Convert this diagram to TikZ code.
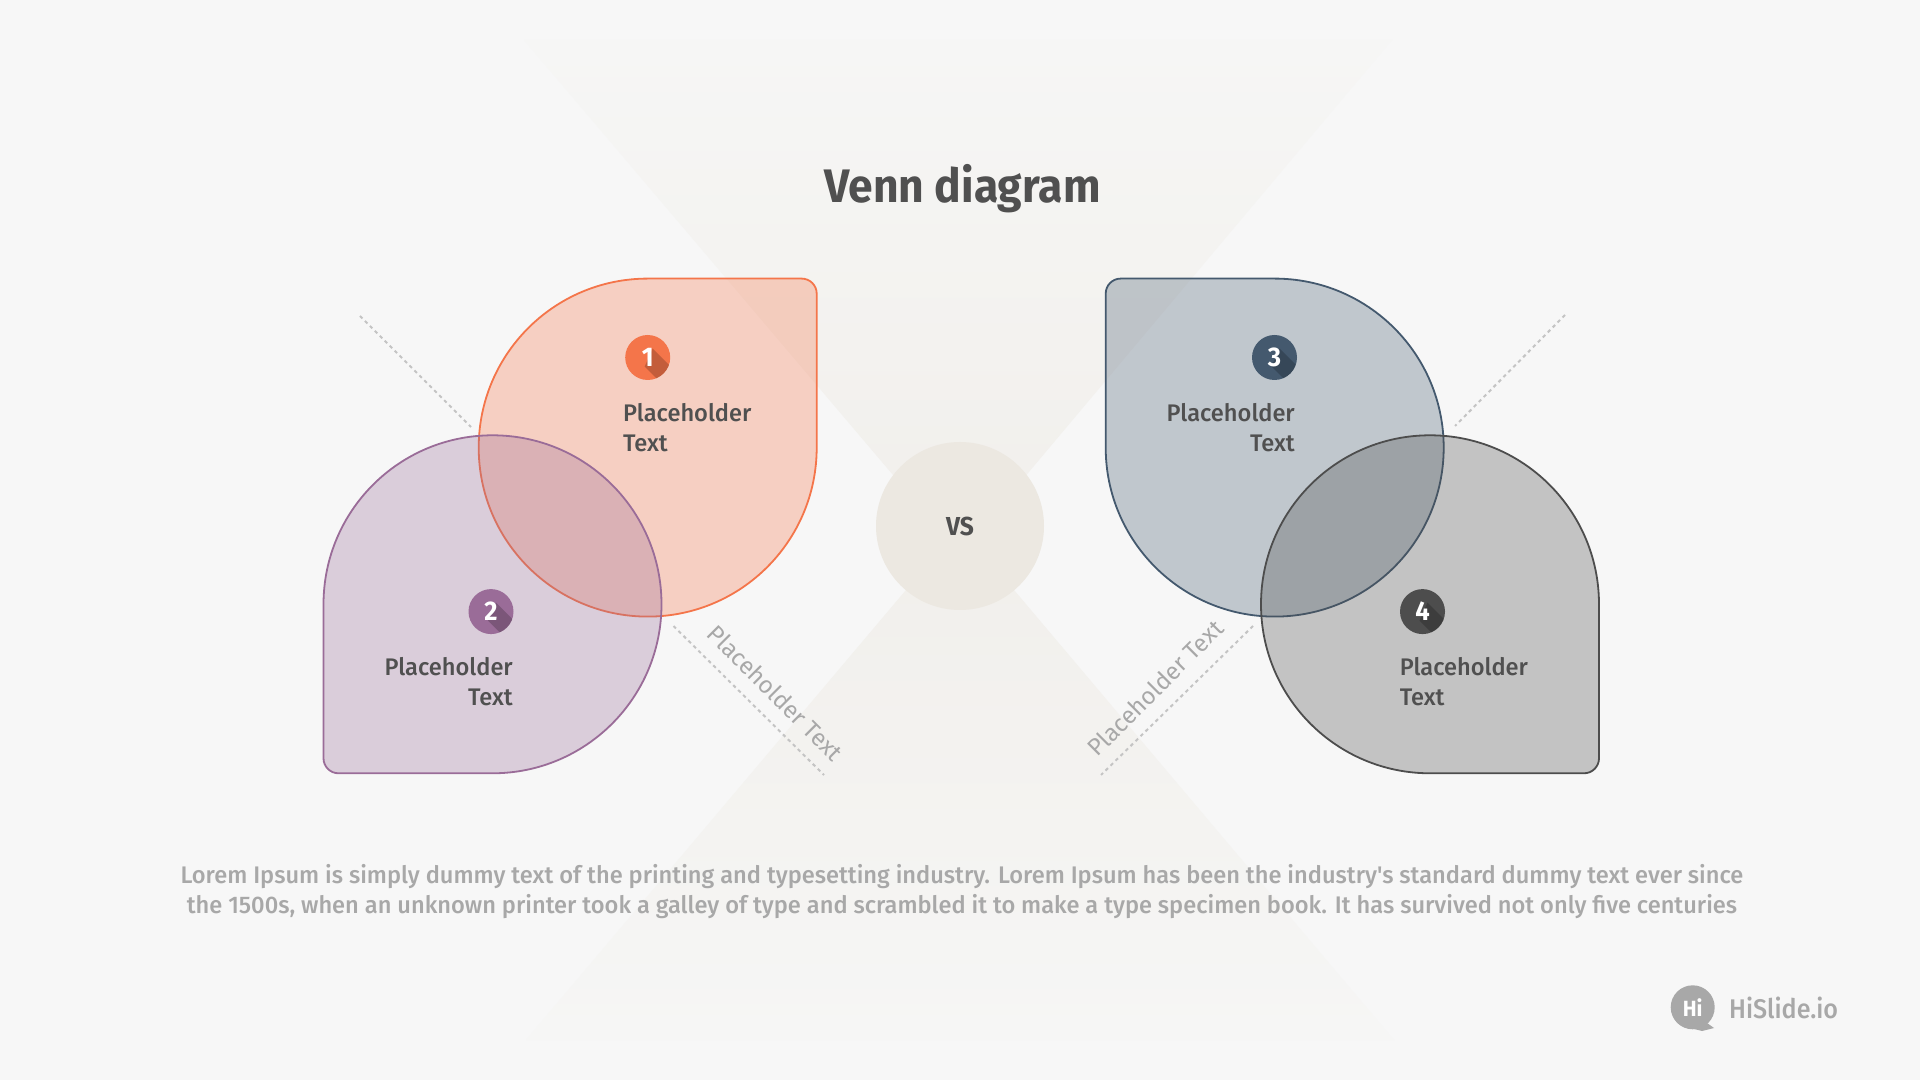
\documentclass[tikz,border=0pt]{standalone}
\usepackage{fontspec}
\setmainfont{Fira Sans}[FakeStretch=0.945]
\newfontfamily\medf{Fira Sans Medium}[FakeStretch=0.985]
\newfontfamily\regf{Fira Sans}[FakeStretch=1.0]
\newfontfamily\logof{Fira Sans Medium}[FakeStretch=0.93]
\definecolor{bgc}{HTML}{F7F7F7}
\definecolor{fanc}{HTML}{F1EFEB}
\definecolor{fand}{HTML}{F6F6F5}
\definecolor{vsc}{HTML}{ECE8E1}
\definecolor{orc}{HTML}{F4754A}
\definecolor{puc}{HTML}{9A6C98}
\definecolor{nac}{HTML}{44596E}
\definecolor{dkc}{HTML}{4D4D4D}
\definecolor{txc}{HTML}{505050}
\definecolor{grc}{HTML}{A8A8A8}
\definecolor{dotc}{HTML}{C4C4C4}
\tikzset{
  petalshape/.style={draw=#1,fill=#1,fill opacity=.30,draw opacity=1,line width=1.8pt},
  badgeshape/.style={circle,fill=#1,minimum size=45pt,inner sep=0pt},
  badgenum/.style={text=white,font=\bfseries\fontsize{27}{27}\selectfont,inner sep=0pt},
  lbl/.style={text=txc,font=\medf\fontsize{24}{30}\selectfont,inner sep=0pt},
  dotline/.style={draw=dotc,line width=2pt,dash pattern=on 3.5pt off 3.5pt},
  rotlbl/.style={text=grc,font=\regf\fontsize{24}{24}\selectfont,inner sep=0pt},
  bodytxt/.style={text=grc,font=\medf\fontsize{24}{30}\selectfont,inner sep=0pt,align=center},
}
% cx, cy, rotation, colour
\newcommand{\petal}[4]{\path[petalshape=#4,shift={(#1,#2)},rotate=#3]
  (0,169) -- (154,169) arc[start angle=90,end angle=0,radius=15] -- (169,0)
  arc[start angle=0,end angle=-270,radius=169] -- cycle;}
% name, x, y, colour, digit
\newcommand{\badge}[5]{
  \node[badgeshape=#4] (#1) at (#2,#3) {};
  \begin{scope}
    \clip (#2,#3) circle[radius=22.5];
    \fill[black,opacity=.2,shift={(#2,#3)}] (5,9) -- (35,-21) -- (27,-39) -- (-3,-9) -- cycle;
  \end{scope}
  \node[badgenum] at (#1) {#5};
}
\begin{document}
\begin{tikzpicture}[x=1pt,y=1pt]
\useasboundingbox (0,0) rectangle (1920,1080);
\fill[bgc] (0,0) rectangle (1920,1080);
% hourglass
\shade[top color=fand,bottom color=fanc] (524,1040) -- (1392,1040) -- (960,526) -- cycle;
\shade[bottom color=fand,top color=fanc] (526,40) -- (1394,40) -- (960,554) -- cycle;
\node[circle,fill=vsc,minimum size=168pt,inner sep=0pt] (vs) at (960,554) {};
\node[text=txc,font=\bfseries\fontsize{26}{26}\selectfont,inner sep=0pt] at (vs) {VS};
% title
\node[text=txc,font=\bfseries\fontsize{47}{47}\selectfont,inner sep=0pt] (title) at (962.5,891) {Venn diagram};
% dotted lines
\coordinate (d1a) at (360,764); \coordinate (d1b) at (471,653);
\coordinate (d2a) at (673.5,454); \coordinate (d2b) at (824,305);
\coordinate (d3a) at (1565,765); \coordinate (d3b) at (1455,654);
\coordinate (d4a) at (1253,454); \coordinate (d4b) at (1101,305);
\draw[dotline] (d1a) -- (d1b);
\draw[dotline] (d2a) -- (d2b);
\draw[dotline] (d3a) -- (d3b);
\draw[dotline] (d4a) -- (d4b);
\node[rotlbl,rotate=-45] (r1) at (775.7,387) {Placeholder Text};
\node[rotlbl,rotate=45] (r2) at (1155.3,392) {Placeholder Text};
% petals
\petal{647.7}{632.4}{0}{orc}
\petal{492.5}{475.7}{180}{puc}
\petal{1274.7}{632.4}{90}{nac}
\petal{1430}{475.7}{-90}{dkc}
% badges
\badge{b1}{647.7}{722.5}{orc}{1}
\badge{b2}{491}{468.4}{puc}{2}
\badge{b3}{1274.5}{722.5}{nac}{3}
\badge{b4}{1422.5}{468.4}{dkc}{4}
% labels
\node[lbl,anchor=west] (l1a) at (623,667.4) {Placeholder};
\node[lbl,anchor=west] (l1b) at (623,637) {Text};
\node[lbl,anchor=east] (l2a) at (513,413.3) {Placeholder};
\node[lbl,anchor=east] (l2b) at (513,383) {Text};
\node[lbl,anchor=east] (l3a) at (1295,667.4) {Placeholder};
\node[lbl,anchor=east] (l3b) at (1295,637) {Text};
\node[lbl,anchor=west] (l4a) at (1399.6,413.3) {Placeholder};
\node[lbl,anchor=west] (l4b) at (1399.6,383) {Text};
% body
\node[bodytxt] (body) at (962,188) {Lorem Ipsum is simply dummy text of the printing and typesetting industry. Lorem Ipsum has been the industry's standard dummy text ever since\\the 1500s, when an unknown printer took a galley of type and scrambled it to make a type specimen book. It has survived not only five centuries};
% logo
\fill[grc] (1692.7,72.7) circle[radius=22];
\fill[grc] (1700,62) -- (1714,52) -- (1702,49) -- (1690,52) -- cycle;
\node[text=white,font=\bfseries\fontsize{22}{22}\selectfont,inner sep=0pt] (hi) at (1692.7,72.7) {Hi};
\node[text=grc,font=\logof\fontsize{27}{27}\selectfont,inner sep=0pt,anchor=west] (hs) at (1729,72) {HiSlide.io};
\end{tikzpicture}
\end{document}
